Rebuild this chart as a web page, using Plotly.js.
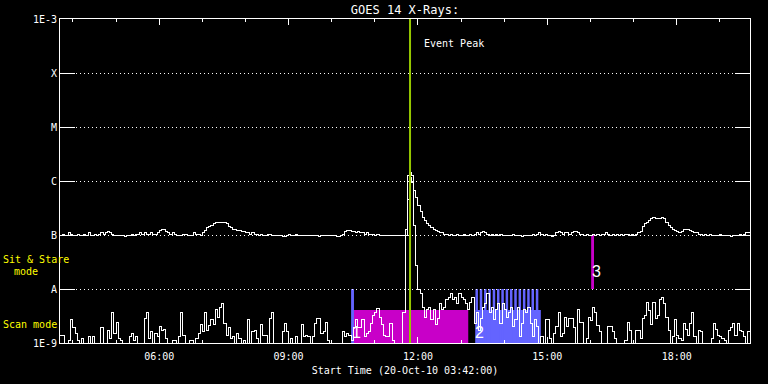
<!DOCTYPE html>
<html>
<head>
<meta charset="utf-8">
<script src="https://cdn.plot.ly/plotly-3.0.1.min.js"></script>
<style>html,body{margin:0;padding:0;background:#000;}#chart{width:768px;height:384px;}
#chart path.js-line{shape-rendering:crispEdges;}
</style>
</head>
<body>
<div id="chart"></div>
<script>
// ---------- DATA ----------
const dayDate = '2010-10-20';
const sampleStartMin = 222;   // 03:42 UT, minutes after midnight
const sampleCadenceMin = 3;   // minutes between samples

// GOES 14 long channel (1-8 A), units of 1e-7 W/m^2
const longFlux_1e7 = [
1.00,1.04,0.96,1.00,1.09,1.04,0.96,1.00,1.04,1.00,0.96,1.04,1.00,1.09,1.00,0.96,1.04,1.00,1.04,1.09,
1.04,1.09,1.14,1.09,1.04,1.00,1.00,0.96,1.00,0.96,0.92,0.96,1.00,1.04,1.00,1.04,1.04,1.09,1.04,1.09,
1.04,1.04,1.09,1.04,1.04,1.09,1.19,1.29,1.24,1.14,1.09,1.04,1.09,1.04,1.00,0.96,1.00,1.04,1.04,1.00,
0.96,1.00,1.09,1.04,1.04,1.00,1.09,1.19,1.35,1.41,1.53,1.60,1.67,1.74,1.74,1.74,1.67,1.60,1.41,1.35,
1.29,1.24,1.19,1.19,1.14,1.14,1.09,1.09,1.04,1.09,1.04,1.04,1.00,1.04,1.00,1.00,1.04,1.04,1.00,0.96,
0.96,1.00,0.96,0.92,0.92,0.96,1.04,1.00,1.00,1.04,1.00,0.96,1.00,1.00,0.96,1.00,0.96,1.00,1.00,0.96,
0.92,0.96,0.96,1.00,0.96,1.00,0.96,0.96,0.92,0.92,0.96,1.04,1.14,1.19,1.19,1.14,1.14,1.09,1.14,1.09,
1.09,1.04,1.09,1.04,1.04,1.04,1.00,1.04,1.00,1.00,1.00,0.96,1.00,1.00,1.00,0.96,1.00,1.00,0.96,0.96,
1.00,4.45,14.1,12.4,6.8,4.85,3.59,2.78,2.15,1.82,1.60,1.47,1.35,1.24,1.19,1.14,1.09,1.09,1.04,1.04,
1.00,1.04,1.00,1.00,1.04,1.00,1.00,1.04,1.00,1.00,1.04,1.00,1.04,1.09,1.04,1.09,1.14,1.09,1.04,1.00,
1.04,1.00,1.04,1.00,1.04,1.00,0.96,1.00,0.96,1.00,1.04,1.00,0.96,1.00,0.92,0.96,1.00,0.96,1.00,1.04,
1.00,1.04,1.09,1.04,1.00,1.04,1.00,0.96,0.92,1.00,1.09,1.14,1.09,1.04,1.09,1.09,1.04,1.09,1.14,1.14,
1.09,1.04,1.04,1.00,1.04,1.00,1.00,1.04,1.00,1.04,1.00,1.04,1.04,1.09,1.04,1.00,1.04,1.00,1.04,1.00,
1.04,1.00,1.04,1.04,1.00,1.04,1.00,1.04,1.09,1.14,1.41,1.60,1.67,1.82,1.98,2.15,2.06,1.98,2.06,2.15,
1.98,1.74,1.53,1.35,1.24,1.19,1.14,1.09,1.14,1.24,1.29,1.24,1.19,1.14,1.09,1.09,1.04,1.04,1.00,1.04,
1.00,1.04,1.00,0.96,1.00,1.00,1.04,1.00,0.96,1.00,0.96,0.92,0.96,1.00,1.00,1.04,1.00,1.04,1.09,1.09,
1.14
];

// GOES 14 short channel (0.5-4 A), units of 1e-9 W/m^2
const shortFlux_1e9 = [
1.4,1.4,0.7,0.7,1.1,2.7,1.9,1.5,1.1,0.7,1.2,0.8,0.7,1.3,0.7,1.3,0.7,0.7,0.8,1.9,
0.9,0.7,1.7,1.2,3.7,1.5,2.4,1.2,1.1,0.7,0.7,0.8,1.3,1.5,1.1,1.3,0.7,0.7,0.9,2.9,
3.6,1.2,1.6,0.8,1.5,1.3,2.0,1.7,1.8,1.2,0.8,0.7,1.1,1.1,0.7,1.3,3.7,1.4,0.7,0.8,
1.1,1.1,0.7,1.2,1.5,2.2,1.6,3.7,1.7,2.1,2.7,2.2,4.1,3.0,4.6,5.5,2.3,1.4,1.9,1.2,
1.3,0.8,1.5,1.2,0.7,1.1,0.9,2.7,1.0,1.6,1.7,1.2,0.8,2.2,1.4,1.4,0.8,2.9,3.7,0.9,
0.7,0.7,0.8,1.6,2.3,1.6,0.9,1.2,0.7,1.3,1.0,1.0,2.2,1.3,1.4,1.3,0.9,1.3,2.3,2.9,
2.9,1.5,1.6,2.4,1.1,0.8,0.9,0.7,0.7,0.7,0.8,1.6,1.3,1.5,1.4,1.1,1.9,2.7,1.9,1.9,
2.7,1.3,1.5,1.6,2.3,3.3,3.6,4.3,3.0,2.2,1.4,1.3,1.3,2.3,1.1,1.0,0.8,0.8,0.9,3.7,
124,1238,1150,958,153,27.8,9.6,8.4,4.6,3.0,4.1,4.6,2.7,4.1,2.2,2.9,5.5,4.1,4.6,6.3,
7.1,8.4,6.3,7.1,5.5,8.4,7.1,6.3,5.5,4.1,5.7,7.1,2.3,3.6,1.7,2.9,4.6,5.5,8.4,3.6,
4.6,2.7,4.1,5.5,2.3,5.5,4.1,3.0,3.6,4.6,2.0,2.7,4.6,1.3,2.3,4.1,3.6,4.6,2.3,1.3,
2.7,2.0,0.8,1.3,0.8,2.7,2.7,1.2,0.8,1.5,2.0,3.6,1.3,1.5,3.0,2.0,2.9,2.9,1.9,1.0,
4.1,2.4,2.4,1.0,1.2,3.0,2.6,4.6,3.6,2.1,1.6,1.0,0.9,0.8,2.0,2.0,1.6,1.2,1.0,0.8,
1.0,1.0,1.1,2.4,1.7,1.0,0.9,1.7,1.7,1.2,2.9,3.3,5.7,4.0,2.2,5.7,2.9,3.3,6.3,7.1,
5.5,3.0,1.7,0.8,1.3,2.7,1.4,1.2,1.1,2.3,1.8,1.4,2.3,3.7,1.3,0.8,1.7,1.6,0.8,0.8,
0.9,0.8,1.2,2.3,1.8,1.4,1.3,1.2,1.1,0.9,1.7,1.9,2.3,1.4,2.3,1.7,1.6,1.3,1.0,1.6,
1.6
];

// Event
const eventPeakTime = '11:49';

// Hinode observing modes
const scanBlocks = [            // [start, end, colour key]
  ['10:30','13:10','mag'],
  ['13:20','14:51','blue']
];
const tallScanBars = [          // thin bars reaching the A level
  ['10:27','10:31','blue'],
  ['13:20','13:23.5','blue'],['13:26','13:29.5','blue'],['13:32','13:35.5','blue'],
  ['13:38','13:41.5','blue'],['13:44','13:47.5','blue'],['13:50','13:53.5','blue'],
  ['13:56','13:59.5','blue'],['14:02','14:05.5','blue'],['14:08','14:11.5','blue'],
  ['14:14','14:17.5','blue'],['14:20','14:23.5','blue'],['14:26','14:29.5','blue'],
  ['14:32','14:35.5','blue'],['14:38','14:41.5','blue'],['14:44','14:47.5','blue']
];
const sitStareBars = [['16:01','16:05','mag']];
const scanBlockTop = 4.1e-9;
const modeLabels = [            // [text, time, flux]
  ['1','10:34',1.55e-9],
  ['2','13:25',1.55e-9],
  ['3','16:08',2.1e-8]
];

const yTickVals = [1e-9,1e-8,1e-7,1e-6,1e-5,1e-4,1e-3];
const yTickText = ['1E-9','A','B','C','M','X','1E-3'];
const xTickHours = ['06:00','09:00','12:00','15:00','18:00'];
const xRange = ['03:42','19:42'];

// ---------- HELPERS ----------
function pad(n){return (n<10?'0':'')+n;}
function minToDate(m){
  const h=Math.floor(m/60), mm=Math.floor(m%60), s=Math.round((m-Math.floor(m))*60);
  return dayDate+' '+pad(h)+':'+pad(mm)+':'+pad(s);
}
function hm(t){ // 'HH:MM(.f)' -> date string
  const p=t.split(':'); return minToDate(parseInt(p[0])*60+parseFloat(p[1]));
}
const times = longFlux_1e7.map((_,i)=>minToDate(sampleStartMin+i*sampleCadenceMin));
const longFlux = longFlux_1e7.map(v=>v*1e-7);
const shortFlux = shortFlux_1e9.map(v=>v*1e-9);

const colours = {mag:'#c800c8', blue:'#6464ff'};
const shapes = [];
scanBlocks.forEach(b=>shapes.push({type:'rect',layer:'below',xref:'x',yref:'y',x0:hm(b[0]),x1:hm(b[1]),y0:1e-9,y1:scanBlockTop,fillcolor:colours[b[2]],line:{width:0}}));
tallScanBars.forEach(b=>shapes.push({type:'rect',layer:'below',xref:'x',yref:'y',x0:hm(b[0]),x1:hm(b[1]),y0:1e-9,y1:1e-8,fillcolor:colours[b[2]],line:{width:0}}));
sitStareBars.forEach(b=>shapes.push({type:'rect',layer:'below',xref:'x',yref:'y',x0:hm(b[0]),x1:hm(b[1]),y0:1e-8,y1:1e-7,fillcolor:colours[b[2]],line:{width:0}}));
shapes.push({type:'line',layer:'above',xref:'x',yref:'paper',x0:hm(eventPeakTime),x1:hm(eventPeakTime),y0:0,y1:1,line:{color:'#96c800',width:2}});

const F='DejaVu Sans Mono';
function px(x){return (x-60)/690;}
function py(y){return (343-y)/324;}
const annotations = [
  {text:'Event Peak',xref:'paper',yref:'paper',x:px(422),y:py(43),xanchor:'left',yanchor:'middle',showarrow:false,font:{family:F,size:10,color:'#ffffff'}},
  {text:'Sit & Stare',xref:'paper',yref:'paper',x:px(1),y:py(259),xanchor:'left',yanchor:'middle',showarrow:false,font:{family:F,size:10,color:'#ffff00'}},
  {text:'mode',xref:'paper',yref:'paper',x:px(12),y:py(271),xanchor:'left',yanchor:'middle',showarrow:false,font:{family:F,size:10,color:'#ffff00'}},
  {text:'Scan mode',xref:'paper',yref:'paper',x:px(1),y:py(324),xanchor:'left',yanchor:'middle',showarrow:false,font:{family:F,size:10,color:'#ffff00'}}
];
modeLabels.forEach(l=>annotations.push({text:l[0],xref:'x',yref:'y',x:hm(l[1]),y:Math.log10(l[2]),xanchor:'center',yanchor:'middle',showarrow:false,font:{family:'Liberation Sans',size:16,color:'#ffffff'}}));

const traces = [
  {x:times,y:longFlux,type:'scatter',mode:'lines',line:{color:'#ffffff',width:1,shape:'hv'},hoverinfo:'skip'},
  {x:times,y:shortFlux,type:'scatter',mode:'lines',line:{color:'#ffffff',width:1,shape:'hv'},hoverinfo:'skip'}
];

const layout = {
  width:768,height:384,
  margin:{l:60,r:18,t:19,b:41,pad:0},
  paper_bgcolor:'#000000',plot_bgcolor:'#000000',
  showlegend:false,
  font:{family:F,color:'#ffffff',size:10},
  title:{text:'GOES 14 X-Rays:',font:{family:F,size:12,color:'#ffffff'},x:0.5,xref:'paper',xanchor:'center',y:1-10/384,yref:'container',yanchor:'middle'},
  xaxis:{
    type:'date',range:[hm(xRange[0]),hm(xRange[1])],
    tickmode:'array',tickvals:xTickHours.map(hm),ticktext:xTickHours,
    ticks:'inside',ticklen:6,tickwidth:1,tickcolor:'#ffffff',
    showline:true,linecolor:'#ffffff',linewidth:1,mirror:'ticks',
    showgrid:false,zeroline:false,
    tickfont:{family:F,size:10,color:'#ffffff'},ticklabelstandoff:4,
    minor:{dtick:3600000,tick0:dayDate+' 00:00:00',ticks:'inside',ticklen:3,tickcolor:'#ffffff',showgrid:false},
    title:{text:'Start Time (20-Oct-10 03:42:00)',font:{family:F,size:10,color:'#ffffff'},standoff:5}
  },
  yaxis:{
    type:'log',range:[-9,-3],
    tickmode:'array',tickvals:yTickVals,ticktext:yTickText,
    ticks:'inside',ticklen:15,tickwidth:1,tickcolor:'#ffffff',
    showline:true,linecolor:'#ffffff',linewidth:1,mirror:'ticks',
    showgrid:true,gridcolor:'#ffffff',gridwidth:1,griddash:'1px,3px',zeroline:false,
    tickfont:{family:F,size:10,color:'#ffffff'}
  },
  shapes:shapes,
  annotations:annotations
};
Plotly.newPlot('chart',traces,layout,{staticPlot:true,displayModeBar:false});
</script>
</body>
</html>
